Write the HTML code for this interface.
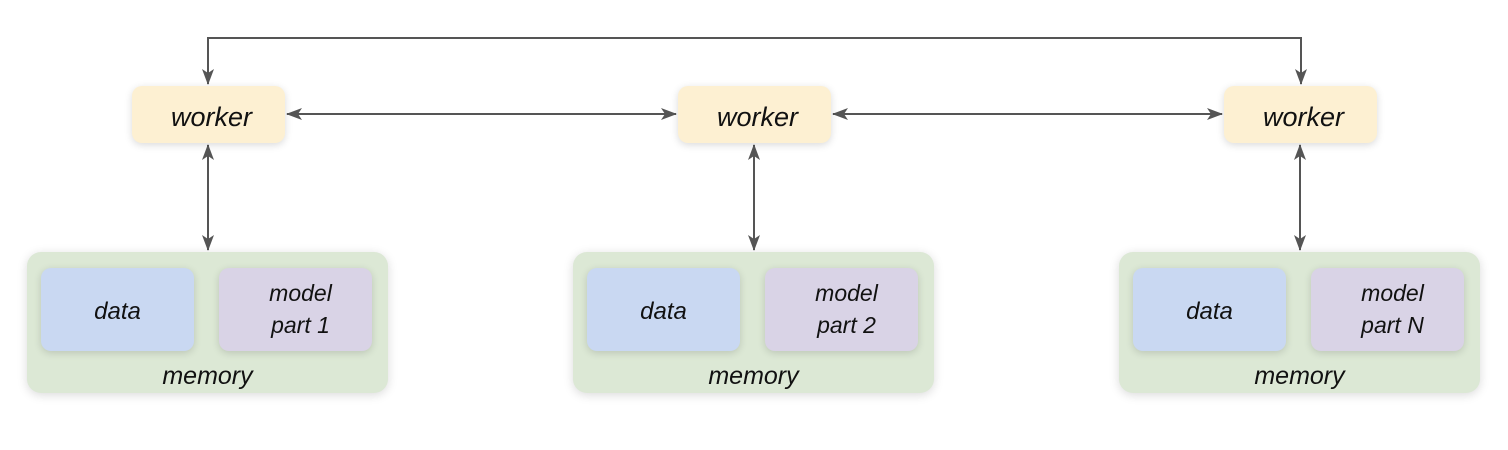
<!DOCTYPE html>
<html><head><style>
body{margin:0;width:1508px;height:450px;background:#fff;position:relative;overflow:hidden;font-family:"Liberation Sans",sans-serif;font-style:italic;color:#111}
.b{position:absolute;border-radius:10px;display:flex;align-items:center;justify-content:center;text-align:center;line-height:1.35}
.w{background:#fdf0d2;width:153px;height:57px;font-size:27px;box-shadow:0 2px 8px rgba(0,0,0,.15);padding-top:6px;box-sizing:border-box;padding-left:6px}
.m{background:#dce8d5;width:361px;height:141px;border-radius:14px;box-shadow:0 2px 10px rgba(0,0,0,.15)}
.d{background:#c9d8f2;width:153px;height:83px;font-size:24px;box-shadow:0 2px 8px rgba(0,0,0,.15);padding-top:6px;box-sizing:border-box}
.p{background:#d9d3e6;width:153px;height:83px;font-size:23px;box-shadow:0 2px 8px rgba(0,0,0,.15);padding-left:10px;box-sizing:border-box}
.ml{position:absolute;font-size:25px;width:361px;text-align:center}
svg{position:absolute;left:0;top:0}
</style></head><body>
<svg width="1508" height="450">
<defs><marker id="a" markerWidth="16" markerHeight="16" refX="15" refY="6" orient="auto-start-reverse" markerUnits="userSpaceOnUse"><path d="M0,0L16,6L0,12L4,6z" fill="#555"/></marker></defs>
<g stroke="#555" stroke-width="2" fill="none">
<path d="M208,84V38H1301V84" marker-start="url(#a)" marker-end="url(#a)"/>
<path d="M287,114H676" marker-start="url(#a)" marker-end="url(#a)"/>
<path d="M833,114H1222" marker-start="url(#a)" marker-end="url(#a)"/>
<path d="M208,145V250" marker-start="url(#a)" marker-end="url(#a)"/>
<path d="M754,145V250" marker-start="url(#a)" marker-end="url(#a)"/>
<path d="M1300,145V250" marker-start="url(#a)" marker-end="url(#a)"/>
</g></svg>
<div class="b w" style="left:132px;top:86px">worker</div>
<div class="b w" style="left:678px;top:86px">worker</div>
<div class="b w" style="left:1224px;top:86px">worker</div>

<div class="b m" style="left:27px;top:252px"></div>
<div class="b d" style="left:41px;top:268px">data</div>
<div class="b p" style="left:219px;top:268px">model<br>part 1</div>
<div class="ml" style="left:27px;top:362px">memory</div>

<div class="b m" style="left:573px;top:252px"></div>
<div class="b d" style="left:587px;top:268px">data</div>
<div class="b p" style="left:765px;top:268px">model<br>part 2</div>
<div class="ml" style="left:573px;top:362px">memory</div>

<div class="b m" style="left:1119px;top:252px"></div>
<div class="b d" style="left:1133px;top:268px">data</div>
<div class="b p" style="left:1311px;top:268px">model<br>part N</div>
<div class="ml" style="left:1119px;top:362px">memory</div>
</body></html>
